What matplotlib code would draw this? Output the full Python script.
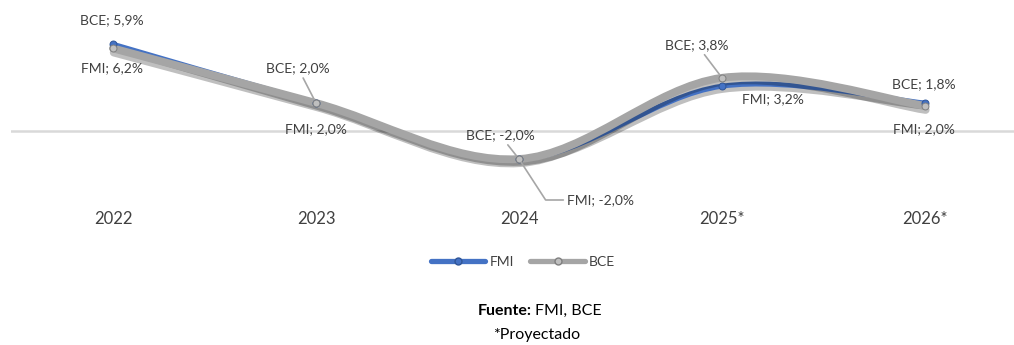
import numpy as np
import matplotlib
matplotlib.use("Agg")
import matplotlib.pyplot as plt
from matplotlib.path import Path
from matplotlib.patches import PathPatch
import matplotlib.patheffects as pe
from matplotlib.lines import Line2D

plt.rcParams['font.family'] = ['Lato', 'DejaVu Sans']

years = ['2022', '2023', '2024', '2025*', '2026*']
fmi = [6.2, 2.0, -2.0, 3.2, 2.0]
bce = [5.9, 2.0, -2.0, 3.8, 1.8]
fmi_labels = ['FMI; 6,2%', 'FMI; 2,0%', 'FMI; -2,0%', 'FMI; 3,2%', 'FMI; 2,0%']
bce_labels = ['BCE; 5,9%', 'BCE; 2,0%', 'BCE; -2,0%', 'BCE; 3,8%', 'BCE; 1,8%']

BLUE = '#4472C4'
GRAY = '#A5A5A5'


def smooth_path(xs, ys):
    # excel style smoothed line: cubic bezier through the points
    pts = np.column_stack([xs, ys]).astype(float)
    n = len(pts)
    verts = [pts[0]]
    codes = [Path.MOVETO]
    for i in range(n - 1):
        p0 = pts[max(i - 1, 0)]
        p1 = pts[i]
        p2 = pts[i + 1]
        p3 = pts[min(i + 2, n - 1)]
        c1 = p1 + (p2 - p0) / 6.0
        c2 = p2 - (p3 - p1) / 6.0
        verts += [c1, c2, p2]
        codes += [Path.CURVE4] * 3
    return Path(verts, codes)


fig = plt.figure(figsize=(10.14, 3.45), dpi=100)
ax = fig.add_axes([11 / 1014, 1 - 200 / 345, 1 - 11 / 1014, 180 / 345])
x = np.arange(len(years))

ax.set_xlim(-(113 - 11) / 203, 4 + (1014 - 925) / 203)
ax.set_ylim(-(200 - 131) / 14, (131 - 20) / 14)
ax.axhline(0, color='#D9D9D9', lw=1.8, zorder=1)

shadow = [pe.SimpleLineShadow(offset=(0.5, -3), shadow_color='k', alpha=0.25), pe.Normal()]

p1 = PathPatch(smooth_path(x, fmi), fill=False, edgecolor=BLUE, lw=3.6,
               capstyle='round', zorder=3, path_effects=shadow)
ax.add_patch(p1)
p2 = PathPatch(smooth_path(x, bce), fill=False, edgecolor=GRAY, lw=5.6,
               capstyle='round', zorder=4, path_effects=shadow)
ax.add_patch(p2)

ax.plot(x, fmi, ls='none', marker='o', ms=5, mfc=BLUE, mec='#2F5597', mew=0.7, zorder=5)
ax.plot(x, bce, ls='none', marker='o', ms=5, mfc='#BFBFBF', mec='#7F7F7F', mew=0.7, zorder=6)

ax.set_xticks(x)
ax.set_xticklabels(years, fontsize=12, color='#404040')
ax.tick_params(axis='x', length=0, pad=8)
ax.set_yticks([])
for s in ax.spines.values():
    s.set_visible(False)

lab_kw = dict(textcoords='offset pixels', ha='center', va='center', fontsize=10,
              color='#404040', zorder=7)
lead = dict(arrowstyle='-', color='#A6A6A6', lw=1.2, shrinkA=1, shrinkB=3)

# BCE labels
bce_off = [(-1, 28), (-18, 35), (-19, 24), (-25, 33), (-1, 22)]
for i in range(5):
    kw = dict(lab_kw)
    if i in (1, 2, 3):
        kw['arrowprops'] = lead
    ax.annotate(bce_labels[i], xy=(x[i], bce[i]), xytext=bce_off[i], **kw)

# FMI labels
fmi_off = [(-1, -24), (0, -26), (82, -41), (51, -13), (-1, -26)]
for i in range(5):
    kw = dict(lab_kw)
    if i == 2:
        kw['arrowprops'] = dict(lead, relpos=(0, 0.5),
                                connectionstyle='angle,angleA=0,angleB=-57,rad=0')
    ax.annotate(fmi_labels[i], xy=(x[i], fmi[i]), xytext=fmi_off[i], **kw)

handles = [Line2D([], [], color=BLUE, lw=3.8, marker='o', ms=5, mfc=BLUE, mec='#2F5597',
                  solid_capstyle='round'),
           Line2D([], [], color=GRAY, lw=3.8, marker='o', ms=5, mfc='#BFBFBF', mec='#7F7F7F',
                  solid_capstyle='round')]
leg = fig.legend(handles, ['FMI', 'BCE'], loc='center', bbox_to_anchor=(523 / 1014, 1 - 262 / 345),
                 ncol=2, frameon=False, fontsize=10, handlelength=3.9, columnspacing=1.2,
                 handletextpad=0.3, numpoints=1)
for t in leg.get_texts():
    t.set_color('#404040')

fig.text(532 / 1014, 1 - 311 / 345, 'Fuente:', ha='right', va='center', fontsize=11.5,
         fontweight='bold', color='black')
fig.text(535 / 1014, 1 - 311 / 345, 'FMI, BCE', ha='left', va='center', fontsize=11.5,
         color='black')
fig.text(537 / 1014, 1 - 335 / 345, '*Proyectado', ha='center', va='center', fontsize=11.5,
         color='black')

fig.savefig('out.png', dpi=100)
